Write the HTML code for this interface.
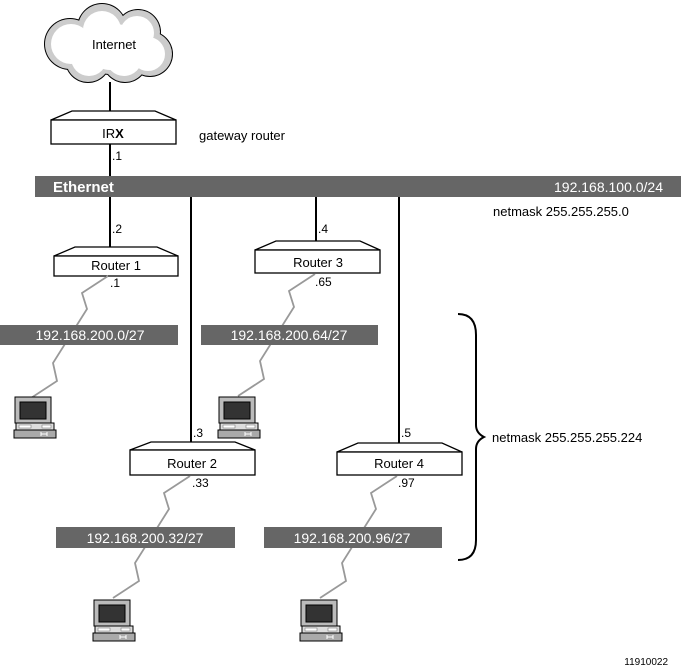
<!DOCTYPE html>
<html><head><meta charset="utf-8"><style>
html,body{margin:0;padding:0;background:#fff;}
svg{display:block;font-family:"Liberation Sans",sans-serif;}
</style></head><body>
<svg width="681" height="668" viewBox="0 0 681 668" xmlns="http://www.w3.org/2000/svg">
<defs>
<g id="pc">
<rect x="1" y="0" width="36" height="26" fill="#bbb" stroke="#000"/>
<rect x="6" y="5" width="26" height="17" fill="#333" stroke="#000"/>
<rect x="2" y="26" width="38" height="7" fill="#ddd" stroke="#000"/>
<rect x="5" y="28" width="12" height="3" fill="#fff" stroke="#666" stroke-width="0.5"/>
<rect x="28" y="28" width="9" height="3" fill="#fff" stroke="#666" stroke-width="0.5"/>
<rect x="0" y="33" width="42" height="8" fill="#aaa" stroke="#000"/>
<path d="M27 35 v4 M33 35 v4 M27 37 h6" stroke="#fff" stroke-width="1"/>
</g>
<g id="zz"><polyline points="0,0 -26,17 -21,33 -55,87 -51,105 -77,122" fill="none" stroke="#999" stroke-width="1.8"/></g>
</defs>
<!-- cloud -->
<g fill="#000">
<circle cx="70" cy="44" r="26"/><circle cx="102" cy="28" r="25"/><circle cx="138" cy="32" r="23"/>
<circle cx="150" cy="54" r="23"/><circle cx="125" cy="60" r="23"/><circle cx="88" cy="60" r="23"/><circle cx="110" cy="46" r="29"/>
</g>
<g fill="#ccc">
<circle cx="70" cy="44" r="25"/><circle cx="102" cy="28" r="24"/><circle cx="138" cy="32" r="22"/>
<circle cx="150" cy="54" r="22"/><circle cx="125" cy="60" r="22"/><circle cx="88" cy="60" r="22"/><circle cx="110" cy="46" r="28"/>
</g>
<g fill="#fff">
<circle cx="71" cy="44" r="20"/><circle cx="102" cy="30" r="19"/><circle cx="137" cy="33" r="17"/>
<circle cx="148" cy="54" r="17"/><circle cx="124" cy="58" r="18"/><circle cx="89" cy="58" r="18"/><circle cx="110" cy="46" r="24"/>
<ellipse cx="110" cy="46" rx="44" ry="22"/>
</g>
<text x="114" y="49" font-size="13" text-anchor="middle">Internet</text>
<!-- black links -->
<g stroke="#000" stroke-width="2">
<line x1="110" y1="82" x2="110" y2="112"/>
<line x1="110" y1="144" x2="110" y2="177"/>
<line x1="110" y1="196" x2="110" y2="248"/>
<line x1="191" y1="196" x2="191" y2="443"/>
<line x1="316" y1="196" x2="316" y2="241"/>
<line x1="399" y1="196" x2="399" y2="443"/>
</g>
<!-- ethernet -->
<rect x="35" y="176" width="646" height="21" fill="#666"/>
<text x="53" y="192" font-size="15" fill="#fff" font-weight="bold">Ethernet</text>
<text x="663" y="192" font-size="14" fill="#fff" text-anchor="end">192.168.100.0/24</text>
<text x="493" y="216" font-size="13">netmask 255.255.255.0</text>
<text x="199" y="140" font-size="13">gateway router</text>
<!-- routers -->
<g fill="#fff" stroke="#000" stroke-width="1.3">
<path d="M51,120 L72,111 L155,111 L176,120 Z"/><rect x="51" y="120" width="125" height="24"/>
<path d="M54,256 L75,247 L157,247 L178,256 Z"/><rect x="54" y="256" width="124" height="20"/>
<path d="M255,250 L276,241 L360,241 L380,250 Z"/><rect x="255" y="250" width="125" height="23"/>
<path d="M130,450 L151,442 L235,442 L255,450 Z"/><rect x="130" y="450" width="125" height="25"/>
<path d="M337,452 L358,443 L442,443 L462,452 Z"/><rect x="337" y="452" width="125" height="23"/>
</g>
<g font-size="13" text-anchor="middle">
<text x="113" y="138">IR<tspan font-weight="bold">X</tspan></text>
<text x="116" y="270">Router 1</text>
<text x="318" y="267">Router 3</text>
<text x="192" y="468">Router 2</text>
<text x="399" y="468">Router 4</text>
</g>
<g font-size="12">
<text x="112" y="160">.1</text>
<text x="112" y="233">.2</text>
<text x="318" y="233">.4</text>
<text x="193" y="437">.3</text>
<text x="401" y="437">.5</text>
<text x="110" y="287">.1</text>
<text x="315" y="286">.65</text>
<text x="192" y="487">.33</text>
<text x="398" y="487">.97</text>
</g>
<!-- zigzags -->
<use href="#zz" x="108" y="276"/>
<use href="#zz" x="315" y="274"/>
<use href="#zz" x="190" y="476"/>
<use href="#zz" x="397" y="476"/>
<!-- subnet bars -->
<g fill="#666">
<rect x="0" y="325" width="178" height="20"/>
<rect x="201" y="325" width="177" height="20"/>
<rect x="56" y="527" width="179" height="21"/>
<rect x="264" y="527" width="178" height="21"/>
</g>
<g font-size="14" fill="#fff" text-anchor="middle">
<text x="90" y="340">192.168.200.0/27</text>
<text x="289" y="340">192.168.200.64/27</text>
<text x="145" y="543">192.168.200.32/27</text>
<text x="352" y="543">192.168.200.96/27</text>
</g>
<!-- computers -->
<use href="#pc" x="14" y="397"/>
<use href="#pc" x="218" y="397"/>
<use href="#pc" x="93" y="600"/>
<use href="#pc" x="300" y="600"/>
<!-- brace -->
<path d="M458,314 Q476,314 476,335 L476,425 Q476,433 484,437 Q476,441 476,449 L476,540 Q476,560 458,560" fill="none" stroke="#000" stroke-width="2"/>
<text x="492" y="442" font-size="13">netmask 255.255.255.224</text>
<text x="668" y="665" font-size="10" text-anchor="end">11910022</text>
</svg>
</body></html>
